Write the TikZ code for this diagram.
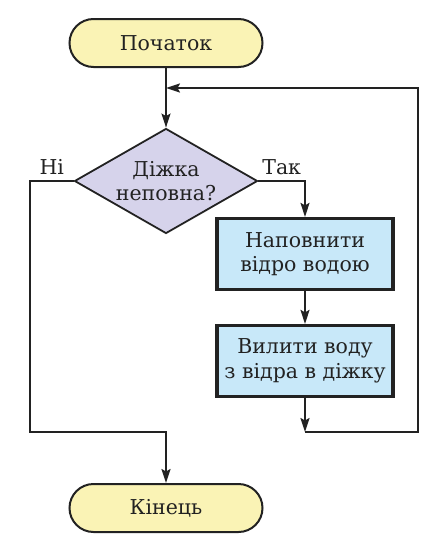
\documentclass[tikz,border=0pt]{standalone}
\usepackage{fontspec}
\setmainfont{DejaVu Serif}
\usetikzlibrary{arrows.meta, shapes.geometric, positioning}
\definecolor{termfill}{HTML}{FAF3B5}
\definecolor{askfill}{HTML}{D6D3EB}
\definecolor{actfill}{HTML}{C8E8F9}
\definecolor{ink}{HTML}{222222}

\begin{document}
\begin{tikzpicture}[x=1pt,y=1pt,align=center,node distance=138pt,
  font=\fontsize{20.5}{24.5}\selectfont, text=ink]
\tikzstyle{terminal}=[rectangle,rounded corners=24pt,draw=ink,line width=2pt,fill=termfill,minimum width=193pt,minimum height=48pt]
\tikzstyle{ask}=[diamond,draw=ink,line width=1.8pt,fill=askfill,aspect=1.75,inner sep=0pt,minimum width=183pt,minimum height=105pt]
\tikzstyle{action}=[rectangle,draw=ink,line width=3.2pt,fill=actfill,minimum width=176pt,minimum height=71pt]
\tikzstyle{flow}=[-{Stealth[length=14pt,width=9pt,inset=2.5pt]},line width=2pt,draw=ink]

\useasboundingbox (0,0) rectangle (434,-546);

\node[terminal] (start) at (166,-43) {Початок};
\node[ask] (full) [below of = start] {Діжка\\неповна?};
\node[action] (pour) at (305,-254) {Наповнити\\відро водою};
\node[action] (empty) [below of = pour, node distance=107pt] {Вилити воду\\з відра в діжку};
\node[terminal] (stop) [below of = full, node distance=327pt] {Кінець};

\coordinate (merge) at (166,-88);
\coordinate (nocorner) at (30,-432);
\coordinate (back) at (305,-432);
\coordinate (rail) at (418,-432);

\draw[flow] (start) -- (full);
\draw[flow] (full.west) -| node[pos=0.25,above=2pt] {Ні} (nocorner) -| (stop.north);
\draw[flow] (full.east) -| node[pos=0.25,above=2pt] {Так} (pour.north);
\draw[flow] (pour) -- (empty);
\draw[flow] (empty) -- (back);
\draw[flow] (back) -- (rail) |- (merge);
\end{tikzpicture}
\end{document}
